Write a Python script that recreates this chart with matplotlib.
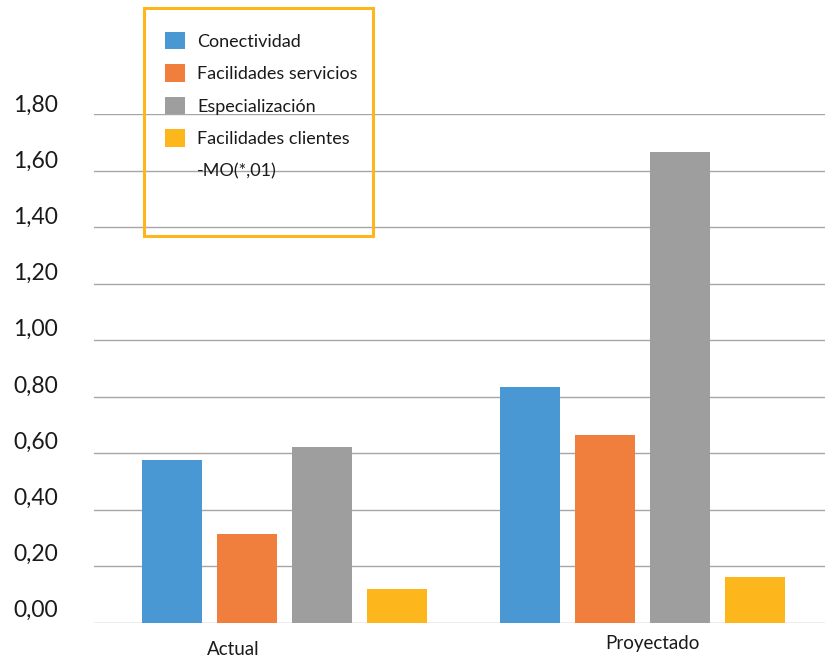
import matplotlib
matplotlib.use("Agg")
import matplotlib.pyplot as plt
from matplotlib.patches import Patch, Rectangle
from matplotlib.transforms import ScaledTranslation
import numpy as np

# Data
categories = ["Actual", "Proyectado"]
series_names = ["Conectividad", "Facilidades servicios", "Especialización", "Facilidades clientes"]
conectividad = [0.575, 0.835]
facilidades_servicios = [0.315, 0.665]
especializacion = [0.620, 1.665]
facilidades_clientes = [0.120, 0.163]
legend_extra_line = "-MO(*,01)"
y_ticks = [0.0, 0.2, 0.4, 0.6, 0.8, 1.0, 1.2, 1.4, 1.6, 1.8]
y_tick_labels = ["0,00", "0,20", "0,40", "0,60", "0,80", "1,00", "1,20", "1,40", "1,60", "1,80"]

colors = ["#4A98D3", "#F07E3C", "#9E9E9E", "#FDB71C"]
text_color = "#1A1A1A"
font = "Lato"

fig = plt.figure(figsize=(8.25, 6.58), dpi=100)
ax = fig.add_axes([94 / 825, 35.3 / 658, 731 / 825, 508.7 / 658])

values = [conectividad, facilidades_servicios, especializacion, facilidades_clientes]
x = np.arange(len(categories))
step = 0.2092
width = 0.1674
for i, (vals, name, c) in enumerate(zip(values, series_names, colors)):
    ax.bar(x + (i - 1.5) * step, vals, width=width, color=c, label=name, zorder=3)

ax.set_xlim(-0.530, 1.509)
ax.set_ylim(0, 1.8)

ax.set_yticks(y_ticks)
ax.set_yticklabels(y_tick_labels, fontsize=16.5, color=text_color, family=font)
ax.yaxis.grid(True, color="#A6A6A6", linewidth=1.0, zorder=0)
ax.tick_params(axis="y", length=0, pad=26)
ax.tick_params(axis="x", length=0, pad=10)

ax.set_xticks(x)
ax.set_xticklabels(categories, fontsize=13.5, color=text_color, family=font)

for s in ax.spines.values():
    s.set_visible(False)

# Nudge tick labels so they sit above their gridlines
for t, v in zip(ax.yaxis.get_major_ticks(), y_ticks):
    lab = t.label1
    dy = 14 - 3 * v / 1.8
    lab.set_transform(lab.get_transform() + ScaledTranslation(0, dy / 100, fig.dpi_scale_trans))
x_offsets = [(-51, -4), (9.5, 2)]
for t, (dx, dy) in zip(ax.xaxis.get_major_ticks(), x_offsets):
    lab = t.label1
    lab.set_transform(lab.get_transform() + ScaledTranslation(dx / 100, dy / 100, fig.dpi_scale_trans))

# Legend inside a gold frame
handles = [Patch(facecolor=c) for c in colors] + [Patch(facecolor="none", edgecolor="none")]
labels = series_names + [legend_extra_line]
leg = fig.legend(handles, labels, loc="upper left",
                 bbox_to_anchor=(165 / 825, 1 - 32 / 658),
                 frameon=False, prop={"family": font, "size": 13},
                 handlelength=1.11, handleheight=1.11, handletextpad=0.66,
                 labelspacing=0.81, borderaxespad=0, borderpad=0)
for t in leg.get_texts():
    t.set_color(text_color)

frame = Rectangle((144 / 825, 1 - 236 / 658), 229 / 825, 228 / 658,
                  transform=fig.transFigure, fill=False,
                  edgecolor="#FDB71C", linewidth=2.2)
fig.add_artist(frame)

fig.savefig("out.png", dpi=100)
